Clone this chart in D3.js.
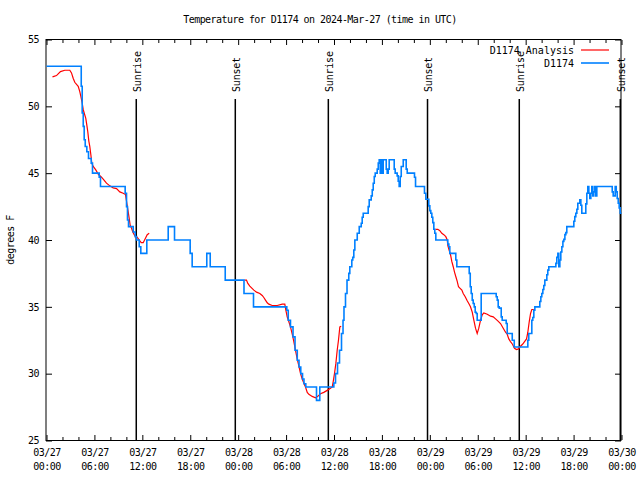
<!DOCTYPE html>
<html><head><meta charset="utf-8">
<script src="https://cdn.jsdelivr.net/npm/d3@7"></script>
<style>
html,body{margin:0;padding:0;background:#fff;}
svg text{font-family:'DejaVu Sans Mono',monospace;font-size:10px;letter-spacing:-0.55px;fill:#000;}
</style></head>
<body>
<svg id="chart" width="640" height="480"></svg>
<script>
const titleText = "Temperature for D1174 on 2024-Mar-27 (time in UTC)";
const yLabel = "degrees F";
const seriesNames = ["D1174 Analysis", "D1174"];
const seriesColors = ["#ff0000", "#0080ff"];
const startTime = Date.UTC(2024, 2, 27, 0, 0);
const yTicks = [25, 30, 35, 40, 45, 50, 55];
const majorTickHours = [0, 6, 12, 18, 24, 30, 36, 42, 48, 54, 60, 66, 72];
const sunriseHours = [11.24, 35.29, 59.2];
const sunsetHours = [23.64, 47.71, 71.85];

// observed D1174 (step series): hours since 03/27 00:00 UTC, deg F
const obsHours = [0.00,4.35,4.47,4.60,4.72,4.85,5.05,5.26,5.60,5.76,6.60,6.76,9.85,10.02,10.14,10.27,10.86,11.11,11.27,11.61,11.81,12.56,15.24,16.03,17.99,18.24,20.07,20.50,22.38,24.73,25.92,
30.09,30.27,30.55,30.87,31.12,31.40,31.62,31.84,32.06,32.24,32.47,33.81,34.22,35.98,36.19,36.44,36.69,36.94,37.13,37.25,37.44,37.63,37.85,37.98,38.23,38.35,38.48,38.61,38.91,39.16,39.41,39.53,39.66,40.28,40.41,40.66,40.79,40.91,41.04,41.16,41.41,41.54,41.66,41.79,41.91,42.04,42.16,42.54,42.66,42.79,42.91,43.54,43.66,43.91,44.04,44.16,44.29,44.42,44.67,45.04,45.17,46.08,46.21,47.33,47.50,47.87,48.00,48.12,48.25,48.37,48.50,48.62,48.75,
50.25,50.38,50.50,51.25,51.38,52.93,53.06,53.18,53.31,53.43,53.56,53.68,53.81,53.93,54.43,56.31,56.44,56.56,56.69,56.94,57.06,57.56,57.69,58.32,58.57,60.27,60.39,60.77,60.89,61.02,61.15,61.77,61.90,62.02,62.15,62.27,62.40,62.65,62.77,62.90,63.78,63.90,64.03,64.15,64.28,64.40,64.53,64.66,64.78,64.91,65.03,65.15,66.03,66.15,66.28,66.41,66.53,66.78,66.91,67.03,67.53,67.66,67.78,67.91,68.03,68.16,68.28,68.41,68.53,68.66,68.78,68.91,70.84,70.96,71.21,71.34,71.46,71.59,71.71,71.84,72.00];
const obsTemps = [53.0,51.5,49.5,48.5,47.5,47.0,46.6,46.1,45.75,45.0,44.7,44.0,43.5,42.5,41.5,41.0,40.6,40.25,40.0,39.5,39.0,40.0,41.0,40.0,39.0,38.0,39.0,38.0,37.0,36.0,35.0,
34.75,34.0,33.5,32.75,31.75,31.0,30.5,30.0,29.6,29.25,29.0,28.0,29.0,29.3,30.0,30.8,31.75,33.0,34.0,35.0,36.0,37.0,37.5,38.0,38.5,38.7,39.25,40.0,40.5,41.0,41.25,41.7,42.0,42.5,43.0,43.3,43.75,44.25,44.75,45.0,45.3,45.75,46.0,45.0,46.0,45.0,46.0,45.3,45.0,45.3,46.0,45.3,45.0,44.8,44.4,44.0,44.75,45.5,46.0,45.3,45.0,44.7,44.0,43.5,43.05,42.55,42.2,42.0,41.7,41.3,40.8,40.5,40.0,
39.7,39.5,39.0,38.5,38.0,37.5,36.5,36.0,35.5,35.25,35.0,34.6,34.5,34.0,36.0,35.75,35.5,35.0,34.9,34.25,34.0,33.75,33.0,32.5,32.0,32.5,33.0,34.0,34.2,34.75,35.0,35.4,35.75,36.0,36.3,36.6,37.0,37.4,37.75,38.0,38.25,38.7,39.0,38.0,38.5,39.1,39.5,39.9,40.05,40.4,40.55,41.0,41.4,41.75,42.0,42.3,42.75,43.0,42.6,42.0,42.7,43.5,44.0,43.5,43.1,43.5,44.0,43.3,43.6,44.0,43.3,44.0,43.6,43.3,44.0,43.6,43.1,42.75,42.4,42.0,42.0];

// analysis D1174 (three overnight runs, null = gap)
const anaHours = [0.75,1.25,1.75,2.29,2.92,3.13,3.34,3.54,3.97,4.17,4.30,4.47,4.60,4.72,4.92,5.05,5.17,5.30,5.42,5.55,5.67,5.85,6.17,6.51,6.89,7.18,7.51,7.93,8.35,8.77,9.18,9.60,9.89,10.06,10.23,10.36,10.48,10.64,10.81,10.98,11.14,11.36,11.61,11.86,12.11,12.36,12.61,12.86,
18.0,
24.79,25.04,25.21,25.46,25.71,25.96,26.30,26.71,27.01,27.21,27.42,27.64,27.84,28.26,28.89,29.51,29.84,29.97,30.14,30.34,30.55,30.77,30.97,31.18,31.39,31.59,31.81,32.02,32.22,32.43,32.65,32.85,33.27,33.68,33.97,34.31,34.72,35.15,35.56,35.78,35.90,36.06,36.23,36.40,36.56,36.73,36.90,
42.0,
48.71,49.00,49.25,49.50,49.75,50.00,50.18,50.25,50.43,50.59,50.75,50.93,51.09,51.26,51.43,51.59,51.76,52.01,52.18,52.43,52.68,52.93,53.09,53.31,53.51,53.72,53.93,54.13,54.35,54.56,54.76,55.19,55.60,55.94,56.23,56.51,56.85,57.19,57.48,57.69,57.89,58.10,58.35,58.60,58.85,59.10,59.35,59.61,59.86,60.11,60.27,60.45,60.61,60.77,61.02];
const anaTemps = [52.2,52.3,52.6,52.7,52.7,52.5,52.1,51.8,51.5,51.1,50.75,50.25,49.75,49.5,49.1,48.6,48.1,47.4,47.0,46.4,45.75,45.5,45.25,44.9,44.7,44.5,44.25,44.05,43.9,43.85,43.6,43.5,43.4,42.75,42.1,41.6,41.1,40.9,40.6,40.4,40.25,40.2,40.0,39.8,39.8,40.1,40.4,40.5,
null,
37.0,37.0,36.75,36.55,36.4,36.25,36.1,36.0,35.85,35.7,35.5,35.3,35.2,35.1,35.1,35.2,35.2,34.75,34.25,33.9,33.5,32.95,32.4,31.75,31.1,30.6,30.0,29.6,29.3,29.0,28.6,28.45,28.3,28.2,28.3,28.5,28.6,28.75,28.9,29.0,29.4,30.0,30.75,31.75,32.5,33.5,33.55,
null,
40.8,40.8,40.7,40.5,40.4,40.25,40.0,39.6,39.2,38.9,38.4,38.0,37.6,37.25,36.9,36.5,36.4,36.25,36.0,35.75,35.45,35.2,35.0,34.6,34.0,33.4,33.0,33.4,34.0,34.4,34.55,34.45,34.3,34.25,34.1,33.95,33.75,33.4,33.1,32.95,32.6,32.4,32.2,31.9,31.8,31.85,32.05,32.2,32.4,32.6,33.1,33.9,34.5,34.8,34.8];

const svg = d3.select("#chart");
const L = 46.5, R = 621.5, T = 39.5, B = 440.5;
const hr = h => new Date(startTime + h * 3600e3);
const x = d3.scaleUtc().domain([hr(0), hr(72)]).range([L, R]);
const y = d3.scaleLinear().domain([25, 55]).range([B, T]);

const majorTicks = majorTickHours.map(hr);
const minorTicks = d3.range(0, 73, 2).filter(h => h % 6 !== 0).map(hr);
const fmtDate = d3.utcFormat("%m/%d"), fmtTime = d3.utcFormat("%H:%M");

function clean(g){ g.select(".domain").remove(); g.selectAll("line").attr("stroke","#000"); g.attr("font-family",null).attr("font-size",null); }

// bottom axis
const gb = svg.append("g").attr("transform", `translate(0,${B - 0.5})`)
  .call(d3.axisBottom(x).tickValues(majorTicks).tickSize(-5).tickPadding(9).tickFormat(""));
clean(gb);
gb.selectAll(".tick text").each(function(d){
  const t = d3.select(this).attr("dy", null).attr("y", 16);
  t.append("tspan").attr("x", 0).text(fmtDate(d));
  t.append("tspan").attr("x", 0).attr("dy", 14).text(fmtTime(d));
});
const gbm = svg.append("g").attr("transform", `translate(0,${B - 0.5})`)
  .call(d3.axisBottom(x).tickValues(minorTicks).tickSize(-3).tickFormat(""));
clean(gbm);
// top axis
const gt = svg.append("g").attr("transform", `translate(0,${T + 0.5})`)
  .call(d3.axisTop(x).tickValues(majorTicks).tickSize(-5).tickFormat(""));
clean(gt);
const gtm = svg.append("g").attr("transform", `translate(0,${T + 0.5})`)
  .call(d3.axisTop(x).tickValues(minorTicks).tickSize(-3).tickFormat(""));
clean(gtm);
// left axis
const gl = svg.append("g").attr("transform", `translate(${L - 0.5},0)`)
  .call(d3.axisLeft(y).tickValues(yTicks).tickSize(-6).tickPadding(7).tickFormat(d3.format("d")));
clean(gl);
// right axis
const gr = svg.append("g").attr("transform", `translate(${R - 0.5},0)`)
  .call(d3.axisRight(y).tickValues(yTicks).tickSize(-6).tickFormat(""));
clean(gr);

// sunrise / sunset markers
const sunEvents = sunriseHours.map(h => ({h, label: "Sunrise"}))
  .concat(sunsetHours.map(h => ({h, label: "Sunset"})));
const sg = svg.append("g");
sg.selectAll("line").data(sunEvents).join("line")
  .attr("x1", d => x(hr(d.h))).attr("x2", d => x(hr(d.h)))
  .attr("y1", 99).attr("y2", B).attr("stroke", "#000").attr("stroke-width", 1.5);
sg.selectAll("text").data(sunEvents).join("text")
  .attr("transform", d => `translate(${x(hr(d.h)) + 4.5},92) rotate(-90)`)
  .attr("text-anchor", "start").style("letter-spacing", "-0.2px").text(d => d.label);

// frame
svg.append("rect").attr("x", L - 0.5).attr("y", T).attr("width", R - L).attr("height", B - T)
  .attr("fill", "none").attr("stroke", "#000").attr("stroke-width", 1);

// analysis line
const anaData = anaHours.map((h, i) => ({t: hr(h), v: anaTemps[i]}));
svg.append("path").datum(anaData)
  .attr("fill", "none").attr("stroke", seriesColors[0]).attr("stroke-width", 1.2)
  .attr("d", d3.line().defined(d => d.v !== null).x(d => x(d.t)).y(d => y(d.v)));

// observed step line
const obsData = obsHours.map((h, i) => ({t: hr(h), v: obsTemps[i]}));
svg.append("path").datum(obsData)
  .attr("fill", "none").attr("stroke", seriesColors[1]).attr("stroke-width", 1.6)
  .attr("d", d3.line().curve(d3.curveStepAfter).x(d => x(d.t)).y(d => y(d.v)));

// title & y label
svg.append("text").attr("x", 320).attr("y", 23).attr("text-anchor", "middle").text(titleText);
svg.append("text").attr("transform", "translate(14,240) rotate(-90)").attr("text-anchor", "middle").text(yLabel);

// legend
const lg = svg.append("g");
seriesNames.forEach((name, i) => {
  const yy = 50 + i * 13;
  lg.append("text").attr("x", 574).attr("y", yy + 3.5).attr("text-anchor", "end")
    .style("letter-spacing", "0px").text(name);
  lg.append("line").attr("x1", 581).attr("x2", 609).attr("y1", yy).attr("y2", yy)
    .attr("stroke", seriesColors[i]).attr("stroke-width", i === 0 ? 1.2 : 1.6);
});
</script>
</body></html>
